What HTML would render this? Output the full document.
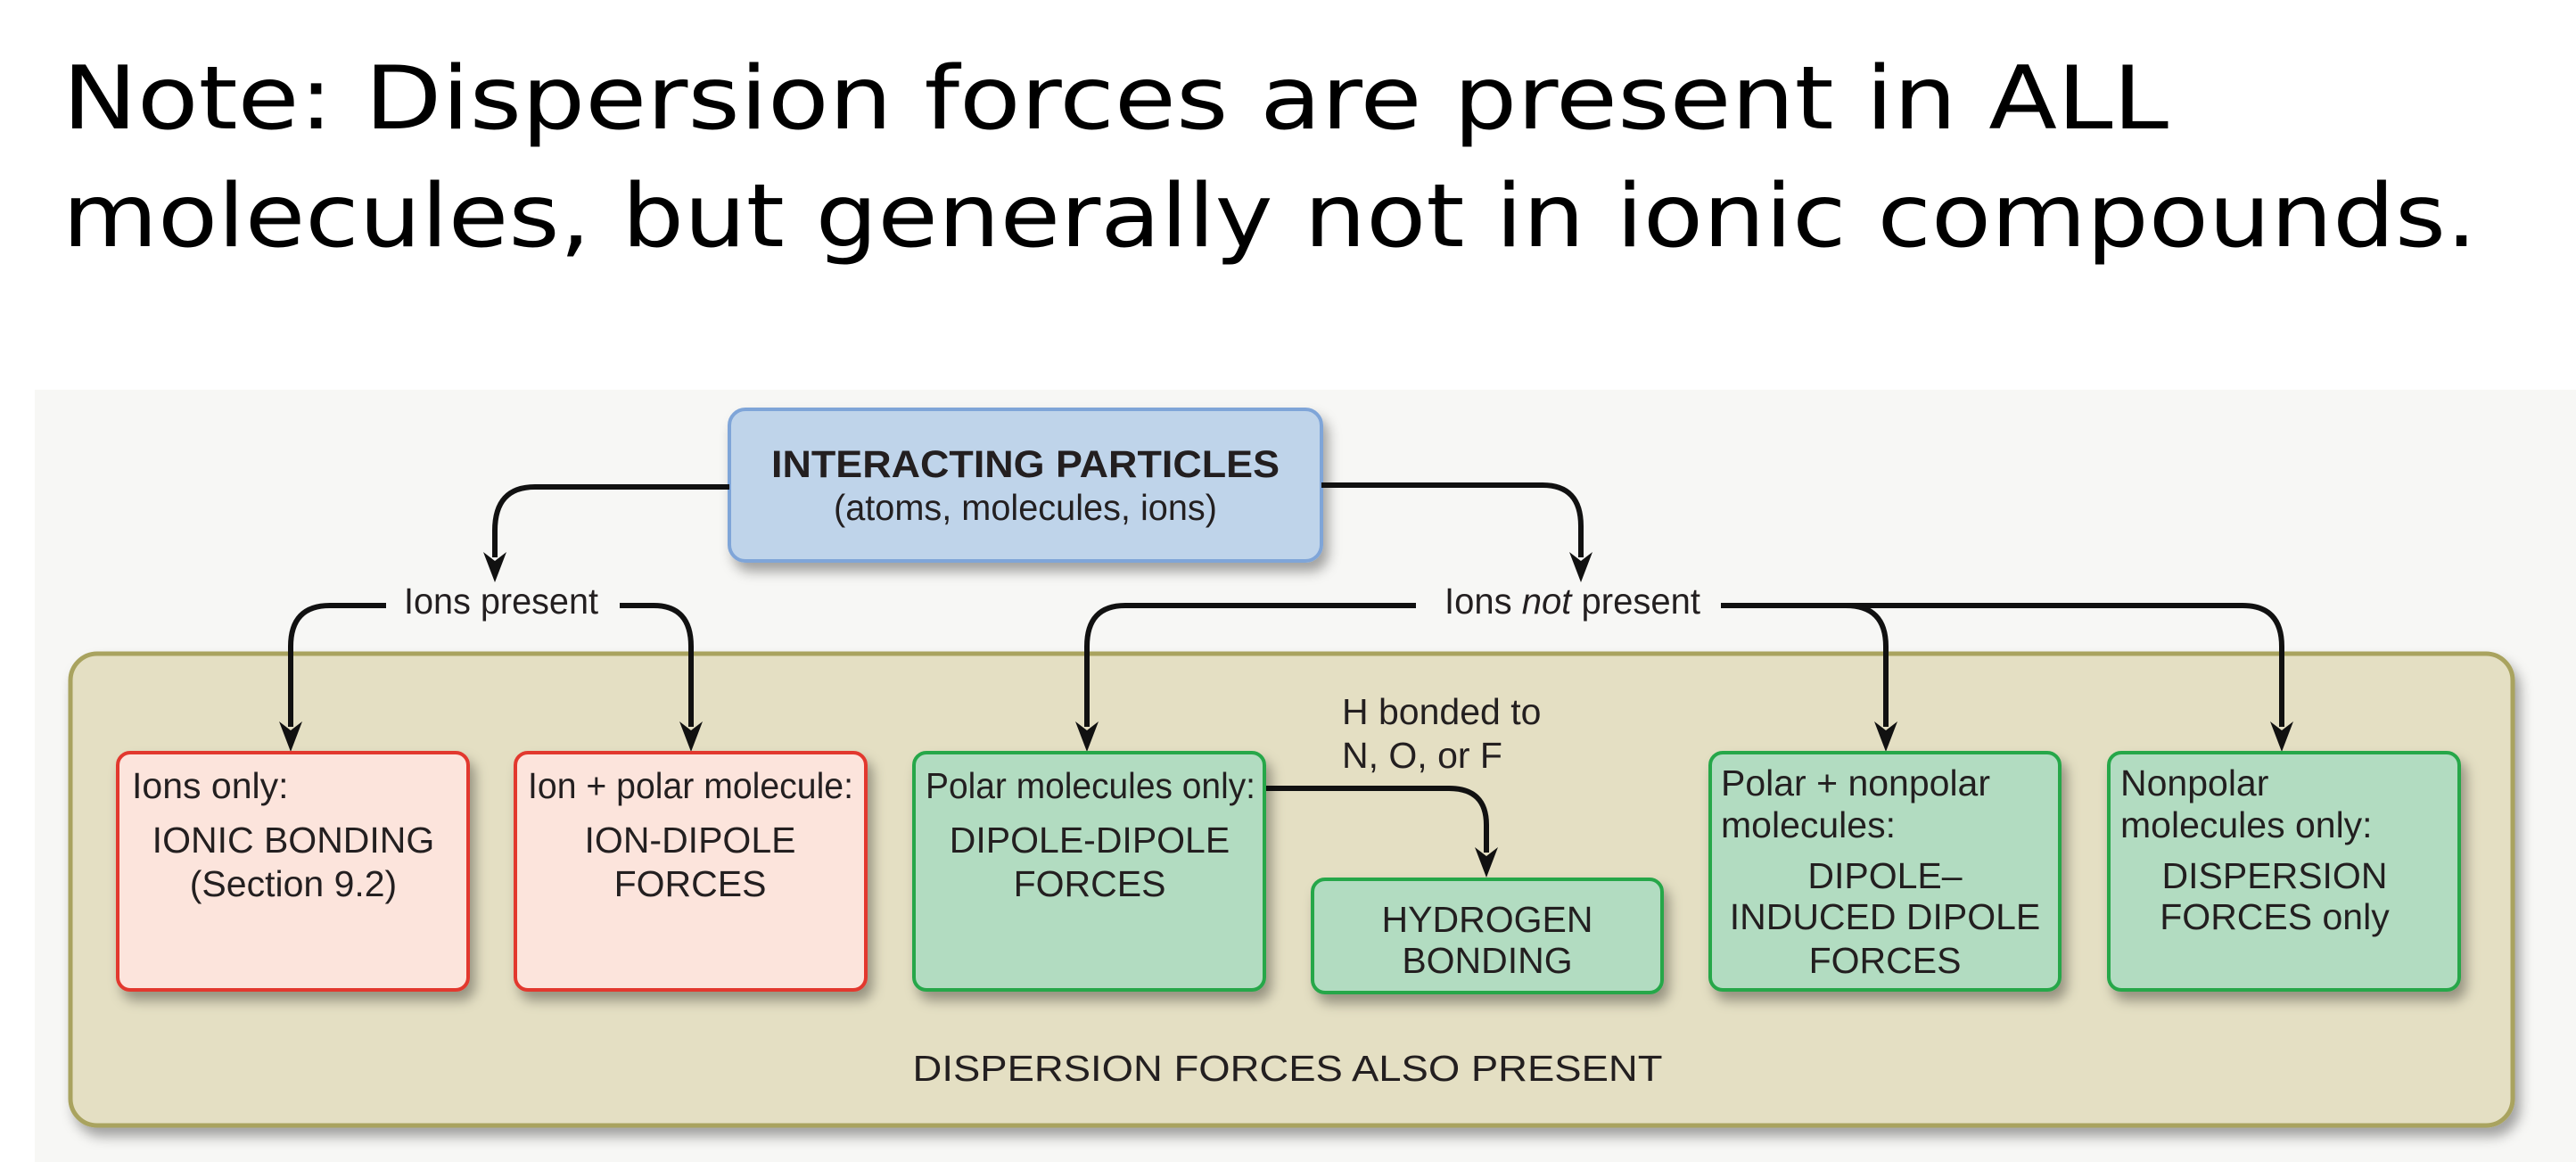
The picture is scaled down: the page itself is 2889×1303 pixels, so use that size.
<!DOCTYPE html>
<html><head><meta charset="utf-8"><style>
html,body{margin:0;padding:0;background:#fff;}
svg{display:block;}
text{font-family:"Liberation Sans",Arial,sans-serif;fill:#231f20;}
.t{font-size:41px;}
.c{text-anchor:middle;}
</style></head><body>
<svg width="2889" height="1303" viewBox="0 0 2889 1303" xmlns="http://www.w3.org/2000/svg">
<defs>
<filter id="sh" x="-10%" y="-10%" width="130%" height="140%"><feDropShadow dx="6" dy="10" stdDeviation="7" flood-color="#000" flood-opacity="0.35"/></filter>
<path id="ah" d="M0,0 L-13,-34 L0,-24 L13,-34 Z" fill="#111"/>
</defs>
<rect width="2889" height="1303" fill="#fff"/>
<text x="70" y="144" style="font-family:'DejaVu Sans',Verdana,sans-serif;font-size:98px;fill:#000" textLength="2362" lengthAdjust="spacingAndGlyphs">Note: Dispersion forces are present in ALL</text>
<text x="70" y="276" style="font-family:'DejaVu Sans',Verdana,sans-serif;font-size:98px;fill:#000" textLength="2708" lengthAdjust="spacingAndGlyphs">molecules, but generally not in ionic compounds.</text>
<rect x="39" y="437" width="2850" height="866" fill="#f7f7f5"/>
<rect x="79" y="733" width="2739" height="529" rx="30" fill="#e4dfc3" stroke="#a9a35e" stroke-width="5" filter="url(#sh)"/>
<rect x="818" y="459" width="664" height="170" rx="18" fill="#bfd4ea" stroke="#7fa5d8" stroke-width="4" filter="url(#sh)"/>
<text x="1150" y="535" class="c" style="font-size:43px;font-weight:bold" textLength="570" lengthAdjust="spacingAndGlyphs">INTERACTING PARTICLES</text>
<text x="1150" y="583" class="c t" textLength="430" lengthAdjust="spacingAndGlyphs">(atoms, molecules, ions)</text>
<g fill="none" stroke="#111" stroke-width="6">
<path d="M818,546 H600 Q555,546 555,595 V625"/>
<path d="M433,679 H370 Q326,679 326,725 V815"/>
<path d="M695,679 H733 Q775,679 775,725 V815"/>
<path d="M1482,544 H1730 Q1773,544 1773,590 V625"/>
<path d="M1588,679 H1262 Q1219,679 1219,725 V815"/>
<path d="M1930,679 H2515 Q2559,679 2559,725 V815"/>
<path d="M2070,679 Q2115,679 2115,725 V815"/>
<path d="M1418,884 H1625 Q1667,884 1667,925 V956"/>
</g>
<use href="#ah" x="555" y="653"/>
<use href="#ah" x="326" y="843"/>
<use href="#ah" x="775" y="843"/>
<use href="#ah" x="1773" y="653"/>
<use href="#ah" x="1219" y="843"/>
<use href="#ah" x="2115" y="843"/>
<use href="#ah" x="2559" y="843"/>
<use href="#ah" x="1667" y="984"/>
<text x="453" y="688" class="t" textLength="218" lengthAdjust="spacingAndGlyphs">Ions present</text>
<text x="1620" y="688" class="t" textLength="287" lengthAdjust="spacingAndGlyphs">Ions <tspan font-style="italic">not</tspan> present</text>
<text x="1505" y="812" class="t">H bonded to</text>
<text x="1505" y="861" class="t">N, O, or F</text>
<g stroke-width="4" filter="url(#sh)">
<rect x="132" y="844" width="393" height="266" rx="14" fill="#fce4dc" stroke="#e2392d"/>
<rect x="578" y="844" width="393" height="266" rx="14" fill="#fce4dc" stroke="#e2392d"/>
<rect x="1025" y="844" width="393" height="266" rx="14" fill="#b2dcc1" stroke="#27a74a"/>
<rect x="1472" y="986" width="392" height="127" rx="14" fill="#b2dcc1" stroke="#27a74a"/>
<rect x="1918" y="844" width="392" height="266" rx="14" fill="#b2dcc1" stroke="#27a74a"/>
<rect x="2365" y="844" width="393" height="266" rx="14" fill="#b2dcc1" stroke="#27a74a"/>
</g>
<text x="148" y="895" class="t">Ions only:</text>
<text x="329" y="956" class="t c">IONIC BONDING</text>
<text x="329" y="1005" class="t c">(Section 9.2)</text>
<text x="592" y="895" class="t" textLength="365" lengthAdjust="spacingAndGlyphs">Ion + polar molecule:</text>
<text x="774" y="956" class="t c">ION-DIPOLE</text>
<text x="774" y="1005" class="t c">FORCES</text>
<text x="1038" y="895" class="t" textLength="370" lengthAdjust="spacingAndGlyphs">Polar molecules only:</text>
<text x="1222" y="956" class="t c">DIPOLE-DIPOLE</text>
<text x="1222" y="1005" class="t c">FORCES</text>
<text x="1668" y="1045" class="t c">HYDROGEN</text>
<text x="1668" y="1091" class="t c">BONDING</text>
<text x="1930" y="892" class="t">Polar + nonpolar</text>
<text x="1930" y="939" class="t">molecules:</text>
<text x="2114" y="996" class="t c">DIPOLE–</text>
<text x="2114" y="1042" class="t c">INDUCED DIPOLE</text>
<text x="2114" y="1091" class="t c">FORCES</text>
<text x="2378" y="892" class="t">Nonpolar</text>
<text x="2378" y="939" class="t">molecules only:</text>
<text x="2551" y="996" class="t c">DISPERSION</text>
<text x="2551" y="1042" class="t c">FORCES only</text>
<text x="1444" y="1212" class="t c" textLength="841" lengthAdjust="spacingAndGlyphs">DISPERSION FORCES ALSO PRESENT</text>
</svg>
</body></html>
